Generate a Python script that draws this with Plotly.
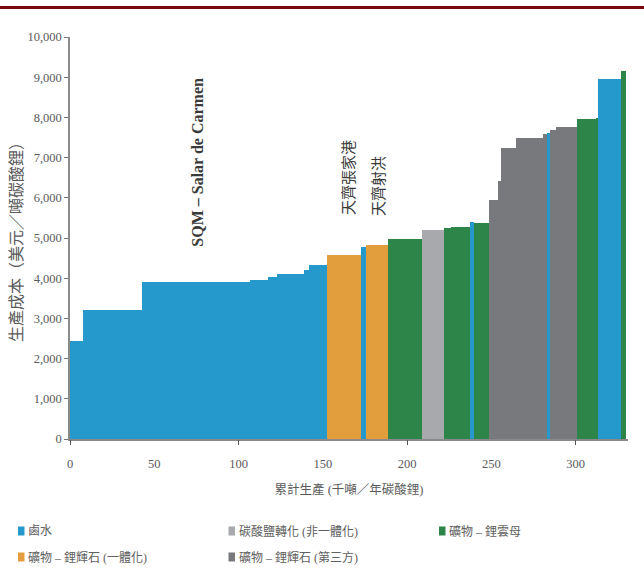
import numpy as np
import plotly.graph_objects as go

# Supply segments in merit order: capacity (kt/yr LCE), cost (USD/t LCE), source type
capacity = [7.5, 35.0, 64.2, 10.9, 4.9, 16.2, 3.2, 10.6,
            20.4, 2.6, 13.4, 20.1, 12.7, 4.1, 11.3, 2.4, 9.0,
            5.4, 1.6, 9.3, 15.8, 2.6, 1.3, 4.0, 12.4, 11.4, 1.0, 13.3, 3.4]
cost = [2450, 3200, 3900, 3950, 4020, 4100, 4200, 4330,
        4570, 4780, 4830, 4970, 5210, 5240, 5280, 5390, 5380,
        5950, 6430, 7230, 7500, 7590, 7600, 7690, 7770, 7950, 7990, 8950, 9160]
source = ["brine"] * 8 + ["spod_int", "brine", "spod_int", "lepid", "conv", "lepid", "lepid",
                          "brine", "lepid", "spod_3rd", "spod_3rd", "spod_3rd", "spod_3rd",
                          "spod_3rd", "brine", "spod_3rd", "spod_3rd", "lepid", "lepid",
                          "brine", "lepid"]

# Legend order (row-wise) and names
series_keys = ["brine", "conv", "lepid", "spod_int", "spod_3rd"]
series_names = {
    "brine": "鹵水",
    "conv": "碳酸鹽轉化 (非一體化)",
    "lepid": "礦物 – 鋰雲母",
    "spod_int": "礦物 – 鋰輝石 (一體化)",
    "spod_3rd": "礦物 – 鋰輝石 (第三方)",
}
series_colors = {
    "brine": "#2699cc",
    "conv": "#a7a9ac",
    "lepid": "#2e8549",
    "spod_int": "#e29e3c",
    "spod_3rd": "#77797d",
}

# Project labels
label_text = ["SQM – Salar de Carmen", "天齊張家港", "天齊射洪"]
label_x = [75.5, 164.5, 182.8]
label_y = [6880, 6500, 6300]

cap = np.array(capacity)
right = np.cumsum(cap)
left = right - cap
center = (left + right) / 2
src = np.array(source)

serif = "Liberation Serif, Noto Sans CJK TC, serif"
grey_text = "#5a5a5a"

# plot-area geometry (px) used to place the key below the axes
W, H = 644, 574
ML, MR, MT, MB = 70, 16, 37, 135
PW, PH = W - ML - MR, H - MT - MB


def px_x(p):
    return (p - ML) / PW


def px_y(p):
    return (H - MB - p) / PH


fig = go.Figure()
for key in series_keys:
    m = src == key
    fig.add_trace(go.Bar(
        x=center[m], y=np.array(cost)[m], width=cap[m],
        name=series_names[key], showlegend=False,
        marker=dict(color=series_colors[key], line=dict(width=0)),
        hovertemplate="%{y:,}<extra>" + series_names[key] + "</extra>",
    ))

# Secondary x axis only carries the tick marks every 100
fig.add_trace(go.Scatter(x=[0, 330], y=[0, 0], xaxis="x2", mode="lines",
                         line=dict(width=0), showlegend=False, hoverinfo="skip"))

for t, x, y in zip(label_text, label_x, label_y):
    bold = t.startswith("SQM")
    fig.add_annotation(
        x=x, y=y, text=("<b>%s</b>" % t) if bold else t, textangle=-90, showarrow=False,
        font=dict(family=("Liberation Serif, serif" if bold else "Noto Sans CJK TC"),
                  size=(16 if bold else 15), color="#3a3a3a"),
    )

# Key: two rows, three columns
key_cols = [18, 228.5, 439]
key_rows = [531, 557]
for i, key in enumerate(series_keys):
    cx = key_cols[i % 3]
    cy = key_rows[i // 3]
    fig.add_shape(type="rect", xref="paper", yref="paper",
                  x0=px_x(cx), x1=px_x(cx + 6.5), y0=px_y(cy - 4.5), y1=px_y(cy + 4.5),
                  fillcolor=series_colors[key], line=dict(width=0))
    fig.add_annotation(xref="paper", yref="paper", x=px_x(cx + 8), y=px_y(cy),
                       xanchor="left", yanchor="middle", showarrow=False,
                       text=series_names[key],
                       font=dict(family=serif, size=12, color="#606060"))

# Dark red rule across the top of the page
fig.add_shape(type="line", xref="paper", yref="paper", x0=-1, x1=2,
              y0=px_y(7.5), y1=px_y(7.5), line=dict(color="#7a0a0a", width=3))

fig.update_layout(
    width=W, height=H,
    margin=dict(l=ML, r=MR, t=MT, b=MB),
    barmode="overlay", bargap=0,
    plot_bgcolor="white", paper_bgcolor="white",
    showlegend=False,
    xaxis=dict(range=[0, 331], dtick=50, tick0=0, ticks="", showgrid=False, zeroline=False,
               showline=True, linecolor="#8a8a8a", linewidth=1.5, automargin=False,
               ticklabelstandoff=12,
               tickfont=dict(family=serif, size=12.5, color=grey_text),
               title=dict(text="累計生產 (千噸／年碳酸鋰)",
                          font=dict(family=serif, size=12.5, color=grey_text), standoff=15)),
    xaxis2=dict(range=[0, 331], overlaying="x", side="bottom", anchor="y", dtick=100, tick0=0,
                ticks="outside", ticklen=5, tickcolor="#555555", showticklabels=False,
                showgrid=False, zeroline=False, showline=False),
    yaxis=dict(range=[0, 10000], dtick=1000, tickformat=",d", ticks="outside", ticklen=4,
               tickcolor="#777777", showgrid=False, zeroline=False, showline=True,
               linecolor="#8a8a8a", linewidth=1.5, automargin=False,
               tickfont=dict(family=serif, size=12.5, color=grey_text),
               title=dict(text="生產成本（美元／噸碳酸鋰）",
                          font=dict(family=serif, size=16, color=grey_text), standoff=1)),
)

fig.write_html("out.html")
